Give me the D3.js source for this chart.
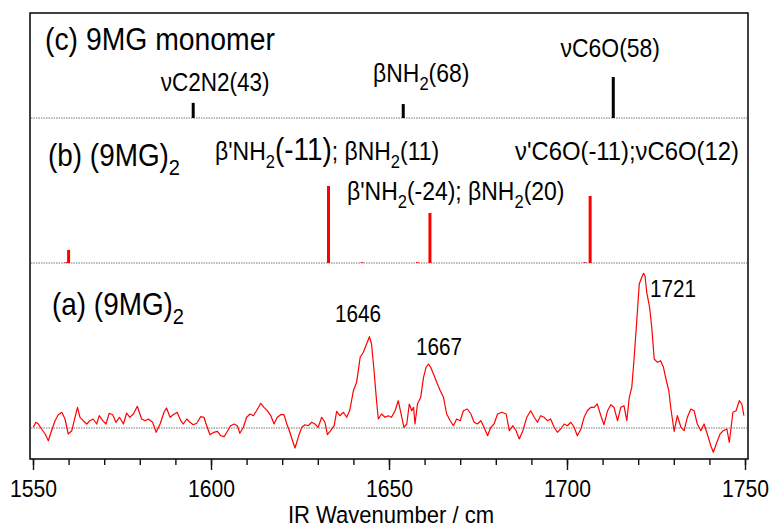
<!DOCTYPE html>
<html>
<head>
<meta charset="utf-8">
<script src="https://cdn.jsdelivr.net/npm/d3@7/dist/d3.min.js"></script>
<style>
  body { margin: 0; background: #fff; }
  svg text { font-family: "Liberation Sans", Arial, sans-serif; fill: #000; }
</style>
</head>
<body>
<svg id="chart" width="771" height="528"></svg>
<script>
/* global d3 */

// x axis
const xTicks = [1550, 1600, 1650, 1700, 1750];

// (c) monomer sticks
const monoWn = [1595, 1654, 1713];
const monoInt = [37, 34, 100];
const monoLabels = ['νC2N2(43)', 'βNH2(68)', 'νC6O(58)'];

// (b) dimer sticks
const dimerWn = [1559.3, 1560, 1633, 1642.4, 1658, 1661.5, 1705, 1706.5];
const dimerInt = [1, 17, 100, 1, 1, 65, 1, 87];

// (a) measured spectrum, arb. units
const specWn = [
  1550.1, 1550.8, 1551.5, 1552.4, 1553.4, 1554.3, 1555.2, 1556.2, 1557.1, 1558.1,
  1559.0, 1559.9, 1560.9, 1561.8, 1562.5, 1563.2, 1564.1, 1565.1, 1566.0, 1566.9,
  1567.9, 1568.6, 1569.6, 1570.5, 1571.4, 1572.4, 1573.3, 1574.3, 1575.4, 1576.3,
  1577.2, 1578.2, 1579.3, 1580.5, 1581.5, 1582.4, 1583.6, 1584.6, 1585.7, 1586.8,
  1587.5, 1588.5, 1589.4, 1590.5, 1591.5, 1592.2, 1593.2, 1594.1, 1595.0, 1596.0,
  1597.1, 1598.0, 1598.8, 1599.7, 1600.8, 1601.8, 1602.7, 1603.7, 1604.6, 1605.5,
  1606.5, 1607.4, 1608.1, 1609.1, 1610.0, 1611.0, 1611.9, 1612.8, 1614.0, 1614.9,
  1615.8, 1616.8, 1617.7, 1618.6, 1619.6, 1620.5, 1621.3, 1622.0, 1622.9, 1623.6,
  1624.5, 1625.5, 1626.4, 1627.3, 1628.3, 1629.2, 1630.1, 1631.1, 1632.0, 1632.7,
  1633.6, 1634.6, 1635.3, 1636.2, 1637.2, 1638.1, 1639.0, 1640.0, 1640.9, 1641.9,
  1642.8, 1643.7, 1644.5, 1645.1, 1645.8, 1646.5, 1647.0, 1647.9, 1648.9, 1649.8,
  1650.7, 1651.7, 1652.6, 1653.3, 1654.2, 1655.0, 1655.7, 1656.4, 1656.9, 1657.3,
  1658.0, 1658.9, 1659.7, 1660.4, 1661.1, 1661.7, 1662.7, 1663.6, 1664.4, 1665.3,
  1666.2, 1667.2, 1668.1, 1669.0, 1670.0, 1670.9, 1672.0, 1673.0, 1673.9, 1674.8,
  1675.8, 1676.7, 1677.7, 1678.6, 1679.5, 1680.5, 1681.7, 1682.9, 1683.8, 1684.8,
  1685.7, 1686.6, 1687.6, 1688.7, 1689.8, 1690.8, 1691.7, 1692.6, 1693.6, 1694.5,
  1695.4, 1696.4, 1697.3, 1698.2, 1699.2, 1700.1, 1701.1, 1702.0, 1702.9, 1703.9,
  1704.8, 1705.7, 1706.7, 1707.6, 1708.5, 1709.5, 1710.4, 1711.4, 1712.3, 1713.2,
  1714.2, 1715.1, 1716.0, 1716.8, 1717.5, 1718.2, 1718.8, 1719.6, 1720.3, 1721.0,
  1721.5, 1721.9, 1722.4, 1723.2, 1723.8, 1724.5, 1725.4, 1726.3, 1727.1, 1727.8,
  1728.6, 1729.2, 1730.1, 1731.0, 1732.0, 1732.9, 1733.8, 1734.8, 1735.7, 1736.6,
  1737.6, 1738.5, 1739.4, 1740.4, 1741.1, 1742.1, 1743.0, 1743.9, 1744.9, 1745.6,
  1746.6, 1747.5, 1748.4, 1749.1, 1749.7
];
const specInt = [
  0.7, 5.7, 4, -1, -6, -12.7, -2.7, 7.3, 13.3, 15.7,
  9, -6, -2.7, 10.7, 20.7, 10.7, 7.3, 4, 7.3, 9,
  4, 12.3, 7.3, 4, 14.7, 13.3, 5.7, 10.7, 4, 15,
  10.7, 14, 21.7, 9, 7.3, 9, 5.7, -4.3, 4, 15.7,
  20, 10.7, 13.3, 15.7, 7.3, 4, 9, 5.7, 3.3, 4.7,
  11.3, 10.7, 2.3, -6.7, -4.3, -3.3, -7.7, -8.7, -3.3, 2.3,
  4, 2.3, -5.3, 0.7, 10.7, 14, 12.3, 17.3, 24.7, 20.7,
  17.3, 12.3, 4, 10.7, 13.3, 13.3, 4, -2.7, -12.7, -20,
  -9.3, 0.7, 3.3, 2.3, 5.7, 4, 0.7, 10.7, 5.7, -6.7,
  -2.7, 2.3, 16.7, 12.3, 15.7, 10.7, 18, 37.3, 45.7, 70.7,
  75.7, 84, 91.3, 84, 57.3, 27.3, 9, 14, 10.7, 12.3,
  10.7, 17.3, 27.3, 15.7, 0.7, 4, 24, 17.3, 20.7, 4,
  24, 30.7, 50.7, 60.7, 64, 60.7, 52.3, 44, 37.3, 30.7,
  14, 7.3, 2.3, 9, 7.3, 17.3, 19, 14, 5.7, 4,
  7.3, 0.7, -7.7, 0.7, 4, 14, 15.7, 14, -2.7, 2.3,
  -2.7, -11, -2.7, 10.7, 17.3, 10.7, 5.7, 12.3, 10.7, 7.3,
  9, 0.7, -4.3, -1, 4, 2.3, 5.7, 0.7, -7.7, -1,
  10.7, 17.3, 20.7, 20.7, 24, 12.3, 3.3, 17.3, 23.3, 20.7,
  7.3, 20.7, 22.3, 7.3, 30.7, 40.7, 67.3, 107.3, 144, 150.7,
  154.7, 152.3, 135.7, 120.7, 100.7, 69, 65.7, 67.3, 60.7, 49,
  37.3, 19, -3.3, 12.3, 0.7, -2.7, 10.7, 19, 17.3, 4,
  -2.7, 4, -6, -17.7, -24.3, -14.3, -6, -2.7, -1, -14.3,
  15.7, 17.3, 27.3, 24, 12.3
];
const peakLabels = ['1646', '1667', '1721'];

const svg = d3.select('#chart');
const squeeze = 0.9; // the original lettering is a bit narrow

/* frame and scales */
const frame = { left: 30, right: 748, top: 13, bottom: 459 };

const x = d3.scaleLinear().domain([1550, 1750]).range([33, 745]);
const yC = d3.scaleLinear().domain([0, 100]).range([118, 77]);
const yB = d3.scaleLinear().domain([0, 100]).range([263, 186]);
const yA = d3.scaleLinear().domain([0, 155]).range([428, 273]);

// dotted baselines
[yC(0), yB(0), yA(0)].forEach(yy => {
  svg.append('line')
    .attr('x1', frame.left + 1).attr('x2', frame.right - 1)
    .attr('y1', yy).attr('y2', yy)
    .attr('stroke', '#777')
    .attr('stroke-width', 1)
    .attr('stroke-dasharray', '1.5,1');
});

// (c) monomer sticks
svg.append('g')
  .selectAll('line')
  .data(monoWn)
  .enter()
  .append('line')
    .attr('x1', d => x(d)).attr('x2', d => x(d))
    .attr('y1', yC(0)).attr('y2', (d, i) => yC(monoInt[i]))
    .attr('stroke', '#000')
    .attr('stroke-width', 3);

// (b) dimer sticks
svg.append('g')
  .selectAll('line')
  .data(dimerWn)
  .enter()
  .append('line')
    .attr('x1', d => x(d)).attr('x2', d => x(d))
    .attr('y1', yB(0)).attr('y2', (d, i) => yB(dimerInt[i]))
    .attr('stroke', '#ff0000')
    .attr('stroke-width', 3);

// (a) spectrum
const line = d3.line()
  .x(d => x(d[0]))
  .y(d => yA(d[1]));

svg.append('path')
  .datum(specWn.map((w, i) => [w, specInt[i]]))
  .attr('fill', 'none')
  .attr('stroke', '#ff0000')
  .attr('stroke-width', 1.2)
  .attr('stroke-linejoin', 'round')
  .attr('d', line);

// frame
svg.append('rect')
  .attr('x', frame.left).attr('y', frame.top)
  .attr('width', frame.right - frame.left)
  .attr('height', frame.bottom - frame.top)
  .attr('fill', 'none')
  .attr('stroke', '#111')
  .attr('stroke-width', 1.6);

/* x axis */
const axisG = svg.append('g')
  .attr('transform', `translate(0,${frame.bottom})`);

axisG.append('g')
  .call(d3.axisBottom(x).ticks(20).tickSize(6).tickFormat(''))
  .call(g => g.select('.domain').remove());

axisG.append('g')
  .call(d3.axisBottom(x).tickValues(xTicks).tickSize(11).tickPadding(10)
    .tickFormat(d3.format('d')))
  .call(g => g.select('.domain').remove());

axisG.selectAll('.tick line')
  .attr('stroke', '#111')
  .attr('stroke-width', 1.4);

axisG.selectAll('.tick text')
  .attr('font-size', 23.5)
  .attr('fill', '#000')
  .attr('transform', `scale(${squeeze},1)`);

/* labels */
function label(xp, yp, size, parts, anchor) {
  const t = svg.append('text')
    .attr('transform', `translate(${xp},${yp}) scale(${squeeze},1)`)
    .attr('font-size', size)
    .attr('text-anchor', anchor || 'start');
  let prevSub = false;
  parts.forEach(p => {
    const isSub = typeof p === 'object' && p.sub;
    const txt = typeof p === 'object' ? p.t : p;
    const ts = t.append('tspan').text(txt);
    if (typeof p === 'object' && p.size) ts.attr('font-size', p.size);
    if (isSub) {
      ts.attr('font-size', size * 0.72).attr('dy', size * 0.3);
      prevSub = true;
    } else if (prevSub) {
      ts.attr('dy', -size * 0.3);
      prevSub = false;
    }
  });
  return t;
}

label(391, 523, 24.5, ['IR Wavenumber / cm'], 'middle');

label(45, 50, 31.5, ['(c) 9MG monomer']);
label(x(monoWn[0]) + 22, 91, 25, [monoLabels[0]], 'middle');
label(x(monoWn[1]) + 18, 82, 25.5, ['βNH', { t: '2', sub: true }, '(68)'], 'middle');
label(x(monoWn[2]) - 3, 57, 25.5, [monoLabels[2]], 'middle');

label(48, 166, 31, ['(b) (9MG)', { t: '2', sub: true }]);
label(215, 160, 25.5, ['β\'NH', { t: '2', sub: true }, { t: '(-11)', size: 31 }, '; βNH', { t: '2', sub: true }, '(11)']);
label(515, 160, 26.5, ['ν\'C6O(-11);νC6O(12)']);
label(347, 200, 25.5, ['β\'NH', { t: '2', sub: true }, '(-24); βNH', { t: '2', sub: true }, '(20)']);

label(52, 315, 31, ['(a) (9MG)', { t: '2', sub: true }]);
label(358, 322, 23, [peakLabels[0]], 'middle');
label(439, 355, 23, [peakLabels[1]], 'middle');
label(650, 297, 23, [peakLabels[2]]);
</script>
</body>
</html>
